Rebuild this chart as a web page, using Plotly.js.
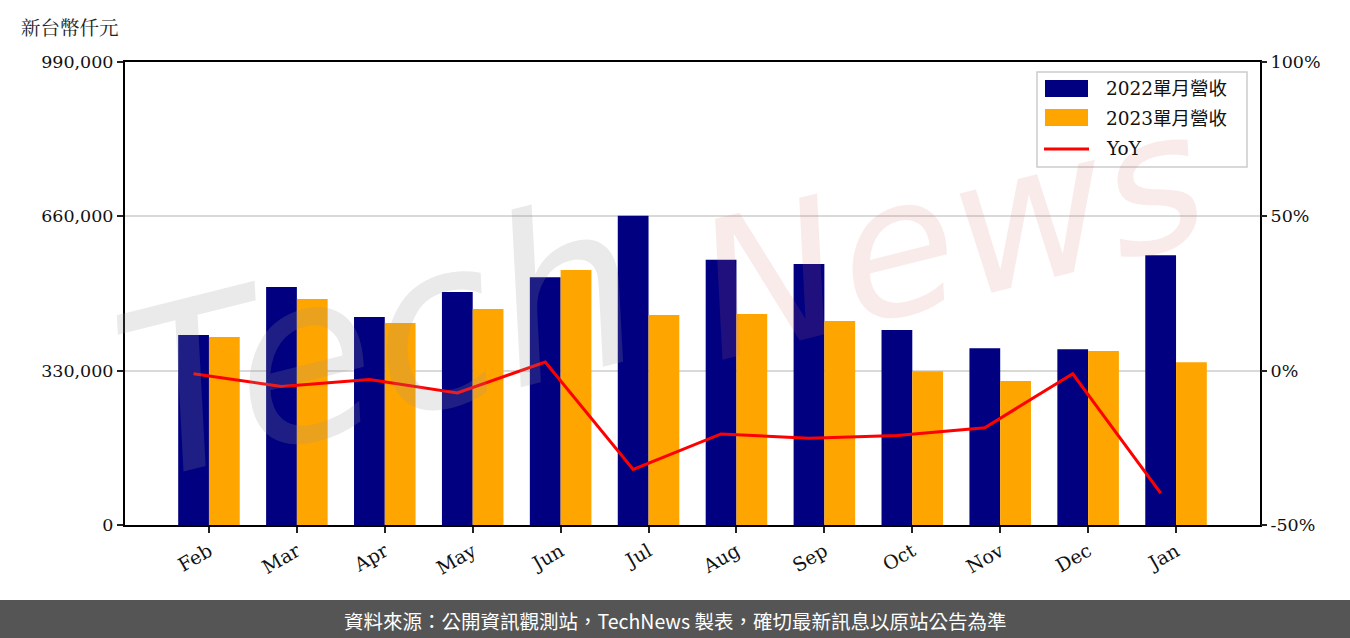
<!DOCTYPE html>
<html>
<head>
<meta charset="utf-8">
<script src="https://cdn.plot.ly/plotly-3.0.1.min.js"></script>
<style>body{margin:0;background:#fff;} #chart{width:1350px;height:638px;}</style>
</head>
<body>
<div id="chart"></div>
<script>
const months = ["Feb","Mar","Apr","May","Jun","Jul","Aug","Sep","Oct","Nov","Dec","Jan"];
const rev2022 = [406000, 509000, 445000, 498000, 530000, 661000, 567000, 558000, 417000, 378000, 376000, 577000];
const rev2023 = [402000, 483000, 432000, 462000, 545000, 449000, 451000, 436000, 329000, 308000, 372000, 348000];
const yoy = [-0.01, -0.051, -0.029, -0.072, 0.028, -0.32, -0.205, -0.219, -0.21, -0.185, -0.01, -0.397];
const leftTicks = [0, 330000, 660000, 990000];
const leftTickText = ["0", "330,000", "660,000", "990,000"];
const rightTicks = [-0.5, 0, 0.5, 1.0];
const rightTickText = ["-50%", "0%", "50%", "100%"];
const seriesNames = ["2022單月營收", "2023單月營收", "YoY"];
const seriesColors = ["#000080", "#FFA500", "#FF0000"];

const idx = months.map((m, i) => i);
const serif = "DejaVu Serif, Noto Sans CJK TC, serif";

// plot area in pixels: left 125, right 1260, top 62, bottom 525
const PL = 125, PR = 1260, PT = 62, PB = 525;
const px = v => (v - PL) / (PR - PL);
const py = v => (PB - v) / (PB - PT);

const traces = [
  {type: "bar", name: seriesNames[0], x: idx, y: rev2022, width: 0.35, offset: -0.35,
   marker: {color: seriesColors[0]}, yaxis: "y"},
  {type: "bar", name: seriesNames[1], x: idx, y: rev2023, width: 0.35, offset: 0,
   marker: {color: seriesColors[1]}, yaxis: "y"},
  {type: "scatter", mode: "lines", name: seriesNames[2], x: idx.map(i => i - 0.175), y: yoy,
   line: {color: seriesColors[2], width: 3}, yaxis: "y2"}
];

// custom legend (box, patches, text)
const legendShapes = [
  {type: "rect", xref: "paper", yref: "paper", x0: px(1037), x1: px(1247), y0: py(167), y1: py(72),
   fillcolor: "rgba(255,255,255,0.85)", line: {color: "#cccccc", width: 1.5}, layer: "above"},
  {type: "rect", xref: "paper", yref: "paper", x0: px(1045), x1: px(1088), y0: py(97), y1: py(80),
   fillcolor: seriesColors[0], line: {width: 0}, layer: "above"},
  {type: "rect", xref: "paper", yref: "paper", x0: px(1045), x1: px(1088), y0: py(126), y1: py(109),
   fillcolor: seriesColors[1], line: {width: 0}, layer: "above"},
  {type: "line", xref: "paper", yref: "paper", x0: px(1044), x1: px(1089), y0: py(149), y1: py(149),
   line: {color: seriesColors[2], width: 3}, layer: "above"}
];
const legendText = [88, 118, 148].map((yy, k) => ({
  text: seriesNames[k], xref: "paper", yref: "paper", x: px(1104), y: py(yy),
  xanchor: "left", yanchor: "middle", showarrow: false,
  font: {family: serif, size: 18.5, color: "#111"}
}));

const layout = {
  width: 1350, height: 638,
  margin: {l: 125, r: 90, t: 62, b: 113},
  paper_bgcolor: "#fff", plot_bgcolor: "rgba(0,0,0,0)",
  font: {family: serif, size: 17.5, color: "#111"},
  barmode: "overlay",
  showlegend: false,
  xaxis: {range: [-0.955, 11.955], tickvals: idx, ticktext: months, tickangle: -30,
          tickfont: {family: serif, size: 19, color: "#111"},
          showline: true, linecolor: "#000", linewidth: 2, mirror: true,
          ticks: "outside", ticklen: 6, tickwidth: 2, tickcolor: "#222",
          showgrid: false, zeroline: false, fixedrange: true},
  yaxis: {range: [0, 990000], tickvals: leftTicks, ticktext: leftTickText,
          showline: true, linecolor: "#000", linewidth: 2, mirror: true,
          ticks: "outside", ticklen: 6, tickwidth: 2, tickcolor: "#222",
          showgrid: true, gridcolor: "#d9d9d9", gridwidth: 2, zeroline: false},
  yaxis2: {range: [-0.5, 1.0], tickvals: rightTicks, ticktext: rightTickText,
           overlaying: "y", side: "right", showgrid: false, zeroline: false,
           ticks: "outside", ticklen: 6, tickwidth: 2, tickcolor: "#222", showline: false},
  shapes: [
    {type: "rect", xref: "paper", yref: "paper", x0: -0.2, x1: 1.2, y0: py(640), y1: py(600),
     fillcolor: "#555555", line: {width: 0}, layer: "below"}
  ].concat(legendShapes),
  annotations: [
    {text: "新台幣仟元", xref: "paper", yref: "paper", x: px(19), y: py(27), xanchor: "left", yanchor: "middle",
     showarrow: false, font: {family: "Noto Serif CJK TC, Noto Sans CJK TC, serif", size: 19.5, color: "#222"}},
    {text: "資料來源：公開資訊觀測站，TechNews 製表，確切最新訊息以原站公告為準", xref: "paper", yref: "paper",
     x: px(675), y: py(620), xanchor: "center", yanchor: "middle", showarrow: false,
     font: {family: "Noto Sans CJK TC, sans-serif", size: 19.5, color: "#ffffff"}},
    {text: "<i>Tech</i>", xref: "paper", yref: "paper", x: px(380), y: py(340), xanchor: "center", yanchor: "middle",
     showarrow: false, textangle: -14, font: {family: "DejaVu Sans", size: 230, color: "rgba(150,150,150,0.2)"}},
    {text: "<i>News</i>", xref: "paper", yref: "paper", x: px(950), y: py(235), xanchor: "center", yanchor: "middle",
     showarrow: false, textangle: -14, font: {family: "DejaVu Sans", size: 190, color: "rgba(220,110,110,0.14)"}}
  ].concat(legendText)
};

Plotly.newPlot("chart", traces, layout, {displayModeBar: false, staticPlot: true});
</script>
</body>
</html>
